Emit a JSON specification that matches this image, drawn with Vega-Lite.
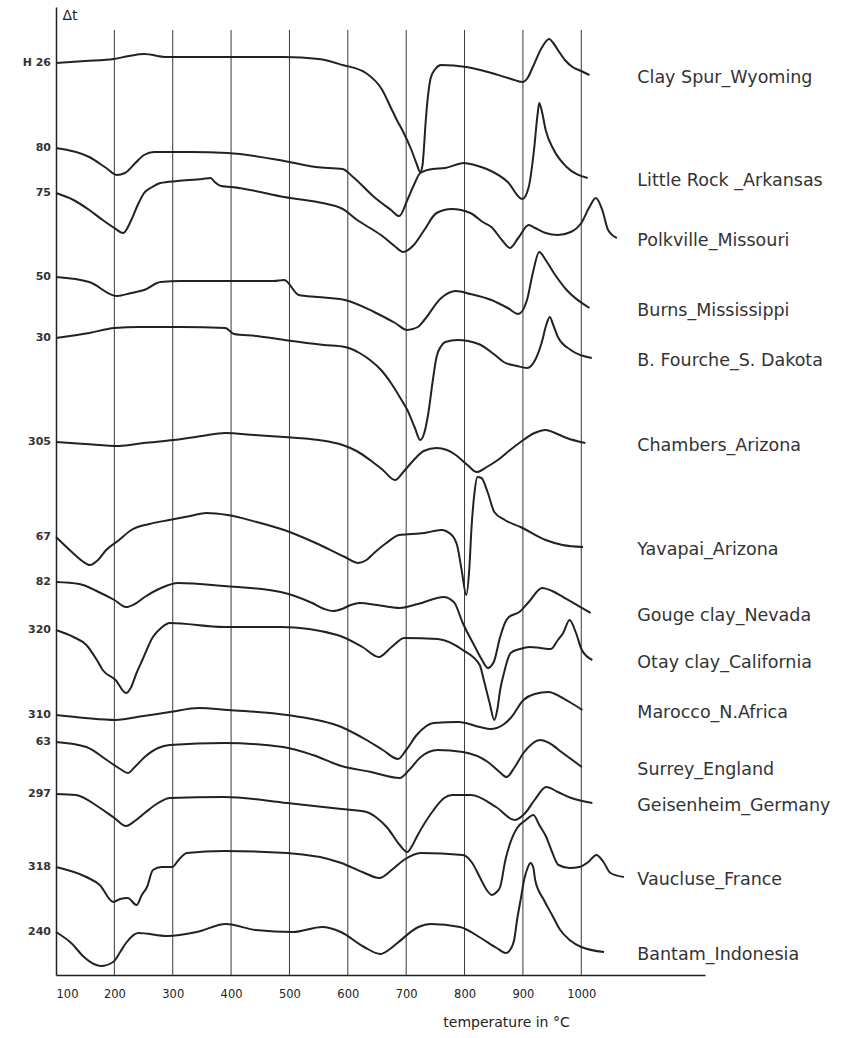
{
"$schema":"https://vega.github.io/schema/vega-lite/v6.json",
"width":649,"height":968,
"autosize":{"type":"none"},
"padding":{"left":56,"top":7,"right":159,"bottom":63},
"background":"white",
"config":{"view":{"stroke":null},"font":"DejaVu Sans"},
"datasets":{
"grid":[{"t":200},{"t":300},{"t":400},{"t":500},{"t":600},{"t":700},{"t":800},{"t":900},{"t":1000}],
"samples":[
{"s":"CS","code":"H 26","name":"Clay Spur_Wyoming"},
{"s":"LR","code":"80","name":"Little Rock _Arkansas"},
{"s":"PV","code":"75","name":"Polkville_Missouri"},
{"s":"BU","code":"50","name":"Burns_Mississippi"},
{"s":"BF","code":"30","name":"B. Fourche_S. Dakota"},
{"s":"CH","code":"305","name":"Chambers_Arizona"},
{"s":"YA","code":"67","name":"Yavapai_Arizona"},
{"s":"GO","code":"82","name":"Gouge clay_Nevada"},
{"s":"OT","code":"320","name":"Otay clay_California"},
{"s":"MA","code":"310","name":"Marocco_N.Africa"},
{"s":"SU","code":"63","name":"Surrey_England"},
{"s":"GE","code":"297","name":"Geisenheim_Germany"},
{"s":"VA","code":"318","name":"Vaucluse_France"},
{"s":"BA","code":"240","name":"Bantam_Indonesia"}],
"curves":[
{"s":"CS","t":100,"v":63},{"s":"CS","t":150,"v":61},{"s":"CS","t":199,"v":59},{"s":"CS","t":225,"v":56},{"s":"CS","t":251,"v":54},{"s":"CS","t":289,"v":57},{"s":"CS","t":388,"v":57},{"s":"CS","t":491,"v":57},{"s":"CS","t":550,"v":59},{"s":"CS","t":591,"v":65},{"s":"CS","t":631,"v":73},{"s":"CS","t":659,"v":90},{"s":"CS","t":674,"v":108},{"s":"CS","t":684,"v":120},{"s":"CS","t":695,"v":132},{"s":"CS","t":709,"v":150},{"s":"CS","t":718,"v":164},{"s":"CS","t":724,"v":172},{"s":"CS","t":728,"v":165},{"s":"CS","t":731,"v":143},{"s":"CS","t":733,"v":125},{"s":"CS","t":735,"v":110},{"s":"CS","t":737,"v":98},{"s":"CS","t":742,"v":78},{"s":"CS","t":750,"v":69},{"s":"CS","t":760,"v":65},{"s":"CS","t":803,"v":67},{"s":"CS","t":846,"v":73},{"s":"CS","t":880,"v":79},{"s":"CS","t":899,"v":82},{"s":"CS","t":908,"v":78},{"s":"CS","t":917,"v":67},{"s":"CS","t":932,"v":48},{"s":"CS","t":945,"v":39},{"s":"CS","t":952,"v":43},{"s":"CS","t":960,"v":50},{"s":"CS","t":972,"v":60},{"s":"CS","t":985,"v":67},{"s":"CS","t":1000,"v":71},{"s":"CS","t":1014,"v":75},
{"s":"LR","t":100,"v":148},{"s":"LR","t":157,"v":157},{"s":"LR","t":186,"v":168},{"s":"LR","t":204,"v":175},{"s":"LR","t":218,"v":173},{"s":"LR","t":236,"v":163},{"s":"LR","t":251,"v":155},{"s":"LR","t":268,"v":152},{"s":"LR","t":330,"v":152},{"s":"LR","t":394,"v":153},{"s":"LR","t":491,"v":161},{"s":"LR","t":545,"v":167},{"s":"LR","t":591,"v":169},{"s":"LR","t":609,"v":177},{"s":"LR","t":645,"v":197},{"s":"LR","t":674,"v":210},{"s":"LR","t":688,"v":216},{"s":"LR","t":702,"v":200},{"s":"LR","t":714,"v":184},{"s":"LR","t":724,"v":173},{"s":"LR","t":745,"v":169},{"s":"LR","t":767,"v":168},{"s":"LR","t":799,"v":163},{"s":"LR","t":817,"v":165},{"s":"LR","t":838,"v":169},{"s":"LR","t":874,"v":182},{"s":"LR","t":899,"v":199},{"s":"LR","t":910,"v":187},{"s":"LR","t":919,"v":150},{"s":"LR","t":925,"v":115},{"s":"LR","t":928,"v":103},{"s":"LR","t":932,"v":110},{"s":"LR","t":939,"v":130},{"s":"LR","t":953,"v":150},{"s":"LR","t":975,"v":167},{"s":"LR","t":1011,"v":178},
{"s":"PV","t":100,"v":193},{"s":"PV","t":130,"v":200},{"s":"PV","t":157,"v":210},{"s":"PV","t":180,"v":220},{"s":"PV","t":200,"v":228},{"s":"PV","t":215,"v":233},{"s":"PV","t":229,"v":220},{"s":"PV","t":240,"v":205},{"s":"PV","t":251,"v":193},{"s":"PV","t":265,"v":187},{"s":"PV","t":279,"v":183},{"s":"PV","t":308,"v":181},{"s":"PV","t":351,"v":179},{"s":"PV","t":365,"v":178},{"s":"PV","t":372,"v":182},{"s":"PV","t":383,"v":186},{"s":"PV","t":401,"v":187},{"s":"PV","t":491,"v":197},{"s":"PV","t":588,"v":208},{"s":"PV","t":616,"v":220},{"s":"PV","t":638,"v":228},{"s":"PV","t":659,"v":236},{"s":"PV","t":680,"v":246},{"s":"PV","t":695,"v":252},{"s":"PV","t":713,"v":245},{"s":"PV","t":731,"v":230},{"s":"PV","t":752,"v":213},{"s":"PV","t":778,"v":209},{"s":"PV","t":810,"v":213},{"s":"PV","t":831,"v":222},{"s":"PV","t":846,"v":227},{"s":"PV","t":864,"v":240},{"s":"PV","t":878,"v":248},{"s":"PV","t":892,"v":238},{"s":"PV","t":910,"v":225},{"s":"PV","t":921,"v":228},{"s":"PV","t":939,"v":233},{"s":"PV","t":960,"v":235},{"s":"PV","t":982,"v":232},{"s":"PV","t":1000,"v":223},{"s":"PV","t":1014,"v":207},{"s":"PV","t":1025,"v":198},{"s":"PV","t":1036,"v":210},{"s":"PV","t":1046,"v":230},{"s":"PV","t":1061,"v":238},
{"s":"BU","t":100,"v":277},{"s":"BU","t":157,"v":282},{"s":"BU","t":204,"v":296},{"s":"BU","t":229,"v":293},{"s":"BU","t":251,"v":290},{"s":"BU","t":279,"v":282},{"s":"BU","t":315,"v":281},{"s":"BU","t":390,"v":281},{"s":"BU","t":473,"v":281},{"s":"BU","t":491,"v":280},{"s":"BU","t":516,"v":295},{"s":"BU","t":548,"v":297},{"s":"BU","t":595,"v":300},{"s":"BU","t":645,"v":312},{"s":"BU","t":681,"v":323},{"s":"BU","t":702,"v":330},{"s":"BU","t":720,"v":327},{"s":"BU","t":731,"v":320},{"s":"BU","t":760,"v":298},{"s":"BU","t":785,"v":291},{"s":"BU","t":810,"v":294},{"s":"BU","t":846,"v":300},{"s":"BU","t":874,"v":308},{"s":"BU","t":892,"v":314},{"s":"BU","t":907,"v":300},{"s":"BU","t":917,"v":273},{"s":"BU","t":928,"v":252},{"s":"BU","t":939,"v":260},{"s":"BU","t":953,"v":273},{"s":"BU","t":975,"v":290},{"s":"BU","t":1014,"v":308},
{"s":"BF","t":100,"v":338},{"s":"BF","t":157,"v":333},{"s":"BF","t":200,"v":328},{"s":"BF","t":243,"v":327},{"s":"BF","t":315,"v":327},{"s":"BF","t":390,"v":328},{"s":"BF","t":405,"v":334},{"s":"BF","t":444,"v":336},{"s":"BF","t":491,"v":340},{"s":"BF","t":559,"v":345},{"s":"BF","t":595,"v":347},{"s":"BF","t":620,"v":353},{"s":"BF","t":638,"v":360},{"s":"BF","t":657,"v":370},{"s":"BF","t":674,"v":383},{"s":"BF","t":690,"v":398},{"s":"BF","t":702,"v":410},{"s":"BF","t":715,"v":428},{"s":"BF","t":724,"v":440},{"s":"BF","t":731,"v":433},{"s":"BF","t":738,"v":413},{"s":"BF","t":745,"v":383},{"s":"BF","t":752,"v":357},{"s":"BF","t":760,"v":346},{"s":"BF","t":767,"v":342},{"s":"BF","t":788,"v":340},{"s":"BF","t":824,"v":344},{"s":"BF","t":850,"v":354},{"s":"BF","t":867,"v":362},{"s":"BF","t":890,"v":366},{"s":"BF","t":907,"v":368},{"s":"BF","t":921,"v":360},{"s":"BF","t":932,"v":343},{"s":"BF","t":940,"v":325},{"s":"BF","t":946,"v":317},{"s":"BF","t":952,"v":325},{"s":"BF","t":960,"v":337},{"s":"BF","t":982,"v":350},{"s":"BF","t":1018,"v":358},
{"s":"CH","t":100,"v":442},{"s":"CH","t":150,"v":444},{"s":"CH","t":208,"v":446},{"s":"CH","t":250,"v":443},{"s":"CH","t":301,"v":440},{"s":"CH","t":350,"v":436},{"s":"CH","t":390,"v":433},{"s":"CH","t":440,"v":435},{"s":"CH","t":491,"v":437},{"s":"CH","t":550,"v":440},{"s":"CH","t":591,"v":445},{"s":"CH","t":615,"v":451},{"s":"CH","t":638,"v":460},{"s":"CH","t":660,"v":470},{"s":"CH","t":681,"v":480},{"s":"CH","t":695,"v":472},{"s":"CH","t":713,"v":460},{"s":"CH","t":730,"v":451},{"s":"CH","t":752,"v":448},{"s":"CH","t":770,"v":450},{"s":"CH","t":785,"v":455},{"s":"CH","t":805,"v":465},{"s":"CH","t":821,"v":472},{"s":"CH","t":838,"v":467},{"s":"CH","t":857,"v":460},{"s":"CH","t":878,"v":450},{"s":"CH","t":896,"v":442},{"s":"CH","t":920,"v":433},{"s":"CH","t":939,"v":430},{"s":"CH","t":955,"v":433},{"s":"CH","t":975,"v":438},{"s":"CH","t":1007,"v":443},
{"s":"YA","t":100,"v":537},{"s":"YA","t":129,"v":553},{"s":"YA","t":145,"v":561},{"s":"YA","t":158,"v":565},{"s":"YA","t":172,"v":560},{"s":"YA","t":186,"v":550},{"s":"YA","t":208,"v":540},{"s":"YA","t":229,"v":530},{"s":"YA","t":260,"v":524},{"s":"YA","t":294,"v":520},{"s":"YA","t":330,"v":516},{"s":"YA","t":358,"v":513},{"s":"YA","t":394,"v":515},{"s":"YA","t":444,"v":522},{"s":"YA","t":491,"v":530},{"s":"YA","t":545,"v":543},{"s":"YA","t":595,"v":557},{"s":"YA","t":618,"v":563},{"s":"YA","t":632,"v":560},{"s":"YA","t":645,"v":553},{"s":"YA","t":666,"v":543},{"s":"YA","t":688,"v":535},{"s":"YA","t":731,"v":533},{"s":"YA","t":760,"v":530},{"s":"YA","t":778,"v":535},{"s":"YA","t":788,"v":547},{"s":"YA","t":795,"v":570},{"s":"YA","t":803,"v":595},{"s":"YA","t":808,"v":570},{"s":"YA","t":812,"v":527},{"s":"YA","t":817,"v":493},{"s":"YA","t":822,"v":477},{"s":"YA","t":829,"v":478},{"s":"YA","t":840,"v":493},{"s":"YA","t":851,"v":512},{"s":"YA","t":869,"v":520},{"s":"YA","t":896,"v":527},{"s":"YA","t":939,"v":540},{"s":"YA","t":968,"v":545},{"s":"YA","t":1003,"v":547},
{"s":"GO","t":100,"v":582},{"s":"GO","t":140,"v":584},{"s":"GO","t":173,"v":592},{"s":"GO","t":200,"v":600},{"s":"GO","t":220,"v":607},{"s":"GO","t":235,"v":604},{"s":"GO","t":252,"v":597},{"s":"GO","t":280,"v":588},{"s":"GO","t":309,"v":583},{"s":"GO","t":388,"v":586},{"s":"GO","t":485,"v":592},{"s":"GO","t":539,"v":603},{"s":"GO","t":560,"v":609},{"s":"GO","t":575,"v":611},{"s":"GO","t":590,"v":609},{"s":"GO","t":605,"v":605},{"s":"GO","t":621,"v":603},{"s":"GO","t":650,"v":605},{"s":"GO","t":689,"v":608},{"s":"GO","t":720,"v":604},{"s":"GO","t":765,"v":597},{"s":"GO","t":775,"v":599},{"s":"GO","t":783,"v":603},{"s":"GO","t":797,"v":623},{"s":"GO","t":818,"v":647},{"s":"GO","t":830,"v":660},{"s":"GO","t":840,"v":668},{"s":"GO","t":850,"v":662},{"s":"GO","t":861,"v":637},{"s":"GO","t":870,"v":622},{"s":"GO","t":876,"v":617},{"s":"GO","t":894,"v":612},{"s":"GO","t":910,"v":602},{"s":"GO","t":933,"v":588},{"s":"GO","t":950,"v":591},{"s":"GO","t":969,"v":597},{"s":"GO","t":1016,"v":613},
{"s":"OT","t":100,"v":630},{"s":"OT","t":130,"v":637},{"s":"OT","t":152,"v":645},{"s":"OT","t":170,"v":660},{"s":"OT","t":180,"v":670},{"s":"OT","t":202,"v":680},{"s":"OT","t":220,"v":693},{"s":"OT","t":228,"v":688},{"s":"OT","t":238,"v":673},{"s":"OT","t":248,"v":660},{"s":"OT","t":266,"v":637},{"s":"OT","t":280,"v":628},{"s":"OT","t":295,"v":623},{"s":"OT","t":388,"v":627},{"s":"OT","t":485,"v":627},{"s":"OT","t":582,"v":635},{"s":"OT","t":625,"v":647},{"s":"OT","t":653,"v":657},{"s":"OT","t":675,"v":647},{"s":"OT","t":697,"v":638},{"s":"OT","t":754,"v":639},{"s":"OT","t":797,"v":650},{"s":"OT","t":826,"v":665},{"s":"OT","t":833,"v":680},{"s":"OT","t":843,"v":703},{"s":"OT","t":851,"v":720},{"s":"OT","t":856,"v":710},{"s":"OT","t":861,"v":690},{"s":"OT","t":868,"v":672},{"s":"OT","t":872,"v":663},{"s":"OT","t":879,"v":653},{"s":"OT","t":895,"v":649},{"s":"OT","t":912,"v":647},{"s":"OT","t":930,"v":648},{"s":"OT","t":948,"v":649},{"s":"OT","t":960,"v":640},{"s":"OT","t":969,"v":633},{"s":"OT","t":980,"v":620},{"s":"OT","t":991,"v":633},{"s":"OT","t":1001,"v":650},{"s":"OT","t":1019,"v":660},
{"s":"MA","t":100,"v":715},{"s":"MA","t":150,"v":718},{"s":"MA","t":202,"v":720},{"s":"MA","t":250,"v":716},{"s":"MA","t":295,"v":712},{"s":"MA","t":345,"v":708},{"s":"MA","t":395,"v":710},{"s":"MA","t":496,"v":715},{"s":"MA","t":589,"v":727},{"s":"MA","t":632,"v":740},{"s":"MA","t":660,"v":750},{"s":"MA","t":686,"v":759},{"s":"MA","t":700,"v":750},{"s":"MA","t":718,"v":735},{"s":"MA","t":747,"v":723},{"s":"MA","t":790,"v":722},{"s":"MA","t":826,"v":727},{"s":"MA","t":845,"v":729},{"s":"MA","t":855,"v":728},{"s":"MA","t":868,"v":724},{"s":"MA","t":879,"v":718},{"s":"MA","t":901,"v":700},{"s":"MA","t":920,"v":694},{"s":"MA","t":944,"v":692},{"s":"MA","t":965,"v":697},{"s":"MA","t":980,"v":702},{"s":"MA","t":1002,"v":710},
{"s":"SU","t":100,"v":742},{"s":"SU","t":152,"v":747},{"s":"SU","t":187,"v":760},{"s":"SU","t":210,"v":769},{"s":"SU","t":223,"v":773},{"s":"SU","t":235,"v":767},{"s":"SU","t":252,"v":757},{"s":"SU","t":275,"v":748},{"s":"SU","t":295,"v":745},{"s":"SU","t":388,"v":743},{"s":"SU","t":489,"v":747},{"s":"SU","t":540,"v":755},{"s":"SU","t":589,"v":766},{"s":"SU","t":640,"v":772},{"s":"SU","t":689,"v":778},{"s":"SU","t":705,"v":770},{"s":"SU","t":725,"v":757},{"s":"SU","t":754,"v":750},{"s":"SU","t":797,"v":752},{"s":"SU","t":840,"v":762},{"s":"SU","t":860,"v":772},{"s":"SU","t":872,"v":777},{"s":"SU","t":885,"v":768},{"s":"SU","t":901,"v":753},{"s":"SU","t":930,"v":740},{"s":"SU","t":945,"v":743},{"s":"SU","t":966,"v":752},{"s":"SU","t":1001,"v":767},
{"s":"GE","t":100,"v":794},{"s":"GE","t":134,"v":795},{"s":"GE","t":173,"v":807},{"s":"GE","t":200,"v":818},{"s":"GE","t":220,"v":826},{"s":"GE","t":235,"v":821},{"s":"GE","t":252,"v":813},{"s":"GE","t":275,"v":803},{"s":"GE","t":295,"v":798},{"s":"GE","t":388,"v":797},{"s":"GE","t":496,"v":803},{"s":"GE","t":589,"v":809},{"s":"GE","t":632,"v":812},{"s":"GE","t":650,"v":818},{"s":"GE","t":668,"v":828},{"s":"GE","t":689,"v":845},{"s":"GE","t":702,"v":852},{"s":"GE","t":710,"v":846},{"s":"GE","t":718,"v":837},{"s":"GE","t":747,"v":810},{"s":"GE","t":765,"v":798},{"s":"GE","t":779,"v":795},{"s":"GE","t":811,"v":795},{"s":"GE","t":854,"v":807},{"s":"GE","t":886,"v":820},{"s":"GE","t":904,"v":813},{"s":"GE","t":920,"v":800},{"s":"GE","t":940,"v":787},{"s":"GE","t":960,"v":792},{"s":"GE","t":983,"v":798},{"s":"GE","t":1019,"v":803},
{"s":"VA","t":100,"v":867},{"s":"VA","t":152,"v":877},{"s":"VA","t":175,"v":885},{"s":"VA","t":198,"v":902},{"s":"VA","t":210,"v":899},{"s":"VA","t":223,"v":898},{"s":"VA","t":238,"v":905},{"s":"VA","t":247,"v":895},{"s":"VA","t":256,"v":887},{"s":"VA","t":266,"v":870},{"s":"VA","t":281,"v":867},{"s":"VA","t":299,"v":867},{"s":"VA","t":310,"v":860},{"s":"VA","t":324,"v":853},{"s":"VA","t":388,"v":851},{"s":"VA","t":496,"v":853},{"s":"VA","t":589,"v":863},{"s":"VA","t":625,"v":872},{"s":"VA","t":654,"v":878},{"s":"VA","t":675,"v":870},{"s":"VA","t":696,"v":860},{"s":"VA","t":725,"v":853},{"s":"VA","t":797,"v":855},{"s":"VA","t":812,"v":862},{"s":"VA","t":826,"v":877},{"s":"VA","t":838,"v":890},{"s":"VA","t":847,"v":895},{"s":"VA","t":855,"v":892},{"s":"VA","t":861,"v":887},{"s":"VA","t":870,"v":860},{"s":"VA","t":876,"v":847},{"s":"VA","t":890,"v":828},{"s":"VA","t":905,"v":820},{"s":"VA","t":918,"v":815},{"s":"VA","t":928,"v":825},{"s":"VA","t":940,"v":837},{"s":"VA","t":950,"v":852},{"s":"VA","t":961,"v":865},{"s":"VA","t":980,"v":868},{"s":"VA","t":997,"v":867},{"s":"VA","t":1012,"v":862},{"s":"VA","t":1026,"v":855},{"s":"VA","t":1038,"v":862},{"s":"VA","t":1050,"v":873},{"s":"VA","t":1073,"v":877},
{"s":"BA","t":100,"v":932},{"s":"BA","t":126,"v":943},{"s":"BA","t":148,"v":957},{"s":"BA","t":165,"v":964},{"s":"BA","t":177,"v":966},{"s":"BA","t":198,"v":962},{"s":"BA","t":210,"v":952},{"s":"BA","t":220,"v":943},{"s":"BA","t":241,"v":933},{"s":"BA","t":291,"v":936},{"s":"BA","t":341,"v":932},{"s":"BA","t":391,"v":924},{"s":"BA","t":442,"v":930},{"s":"BA","t":506,"v":932},{"s":"BA","t":556,"v":927},{"s":"BA","t":588,"v":932},{"s":"BA","t":628,"v":947},{"s":"BA","t":656,"v":954},{"s":"BA","t":670,"v":950},{"s":"BA","t":685,"v":943},{"s":"BA","t":721,"v":927},{"s":"BA","t":742,"v":924},{"s":"BA","t":792,"v":927},{"s":"BA","t":828,"v":938},{"s":"BA","t":855,"v":948},{"s":"BA","t":871,"v":953},{"s":"BA","t":880,"v":948},{"s":"BA","t":885,"v":940},{"s":"BA","t":890,"v":920},{"s":"BA","t":896,"v":900},{"s":"BA","t":902,"v":880},{"s":"BA","t":908,"v":868},{"s":"BA","t":913,"v":863},{"s":"BA","t":918,"v":868},{"s":"BA","t":921,"v":880},{"s":"BA","t":936,"v":900},{"s":"BA","t":950,"v":915},{"s":"BA","t":964,"v":930},{"s":"BA","t":980,"v":940},{"s":"BA","t":1000,"v":947},{"s":"BA","t":1039,"v":952}
]},
"layer":[
{"data":{"name":"grid"},
 "mark":{"type":"rule","color":"#3a3a3a","strokeWidth":1},
 "encoding":{
  "x":{"field":"t","type":"quantitative",
   "scale":{"domain":[100,1212],"nice":false,"zero":false},
   "axis":{"orient":"bottom","values":[100,200,300,400,500,600,700,800,900,1000],"format":"d","ticks":false,"grid":false,
    "domainColor":"#222","domainWidth":1.5,"labelFont":"DejaVu Sans","labelFontSize":11.5,"labelColor":"#222",
    "labelPadding":13,"labelFlush":false,"labelOverlap":false,
    "labelAlign":{"condition":{"test":"datum.value == 100","value":"left"},"value":"center"},
    "title":"temperature in °C","titleX":450,"titleY":47,"titleFont":"DejaVu Sans","titleFontSize":14,"titleFontWeight":"normal",
    "titleAlign":"center","titleBaseline":"middle","titleColor":"#222"}},
  "y":{"datum":30,"type":"quantitative",
   "scale":{"domain":[7,975],"reverse":true,"nice":false,"zero":false},
   "axis":{"orient":"left","ticks":false,"labels":false,"grid":false,"domainColor":"#222","domainWidth":1.5,
    "title":"Δt","titleAngle":0,"titleX":6,"titleY":8,"titleAlign":"left","titleBaseline":"middle",
    "titleFont":"DejaVu Sans","titleFontSize":14,"titleFontWeight":"normal","titleColor":"#222"}},
  "y2":{"datum":975}}},
{"data":{"name":"curves"},
 "mark":{"type":"line","interpolate":"monotone","color":"#222","strokeWidth":2},
 "encoding":{"x":{"field":"t","type":"quantitative"},"y":{"field":"v","type":"quantitative"},"detail":{"field":"s"}}},
{"data":{"name":"curves"},
 "transform":[{"joinaggregate":[{"op":"min","field":"t","as":"tmin"}],"groupby":["s"]},{"filter":"datum.t == datum.tmin"},
  {"lookup":"s","from":{"data":{"name":"samples"},"key":"s","fields":["code"]}}],
 "mark":{"type":"text","align":"right","baseline":"middle","dx":-5,"fontSize":11,"fontWeight":"bold","color":"#333","font":"DejaVu Sans"},
 "encoding":{"x":{"field":"t","type":"quantitative"},"y":{"field":"v","type":"quantitative"},"text":{"field":"code"}}},
{"data":{"name":"curves"},
 "transform":[{"joinaggregate":[{"op":"max","field":"t","as":"tmax"}],"groupby":["s"]},{"filter":"datum.t == datum.tmax"},
  {"lookup":"s","from":{"data":{"name":"samples"},"key":"s","fields":["name"]}}],
 "mark":{"type":"text","align":"left","baseline":"middle","dy":3,"fontSize":17.5,"color":"#333","font":"DejaVu Sans"},
 "encoding":{"x":{"datum":1096,"type":"quantitative"},"y":{"field":"v","type":"quantitative"},"text":{"field":"name"}}}
]
}
